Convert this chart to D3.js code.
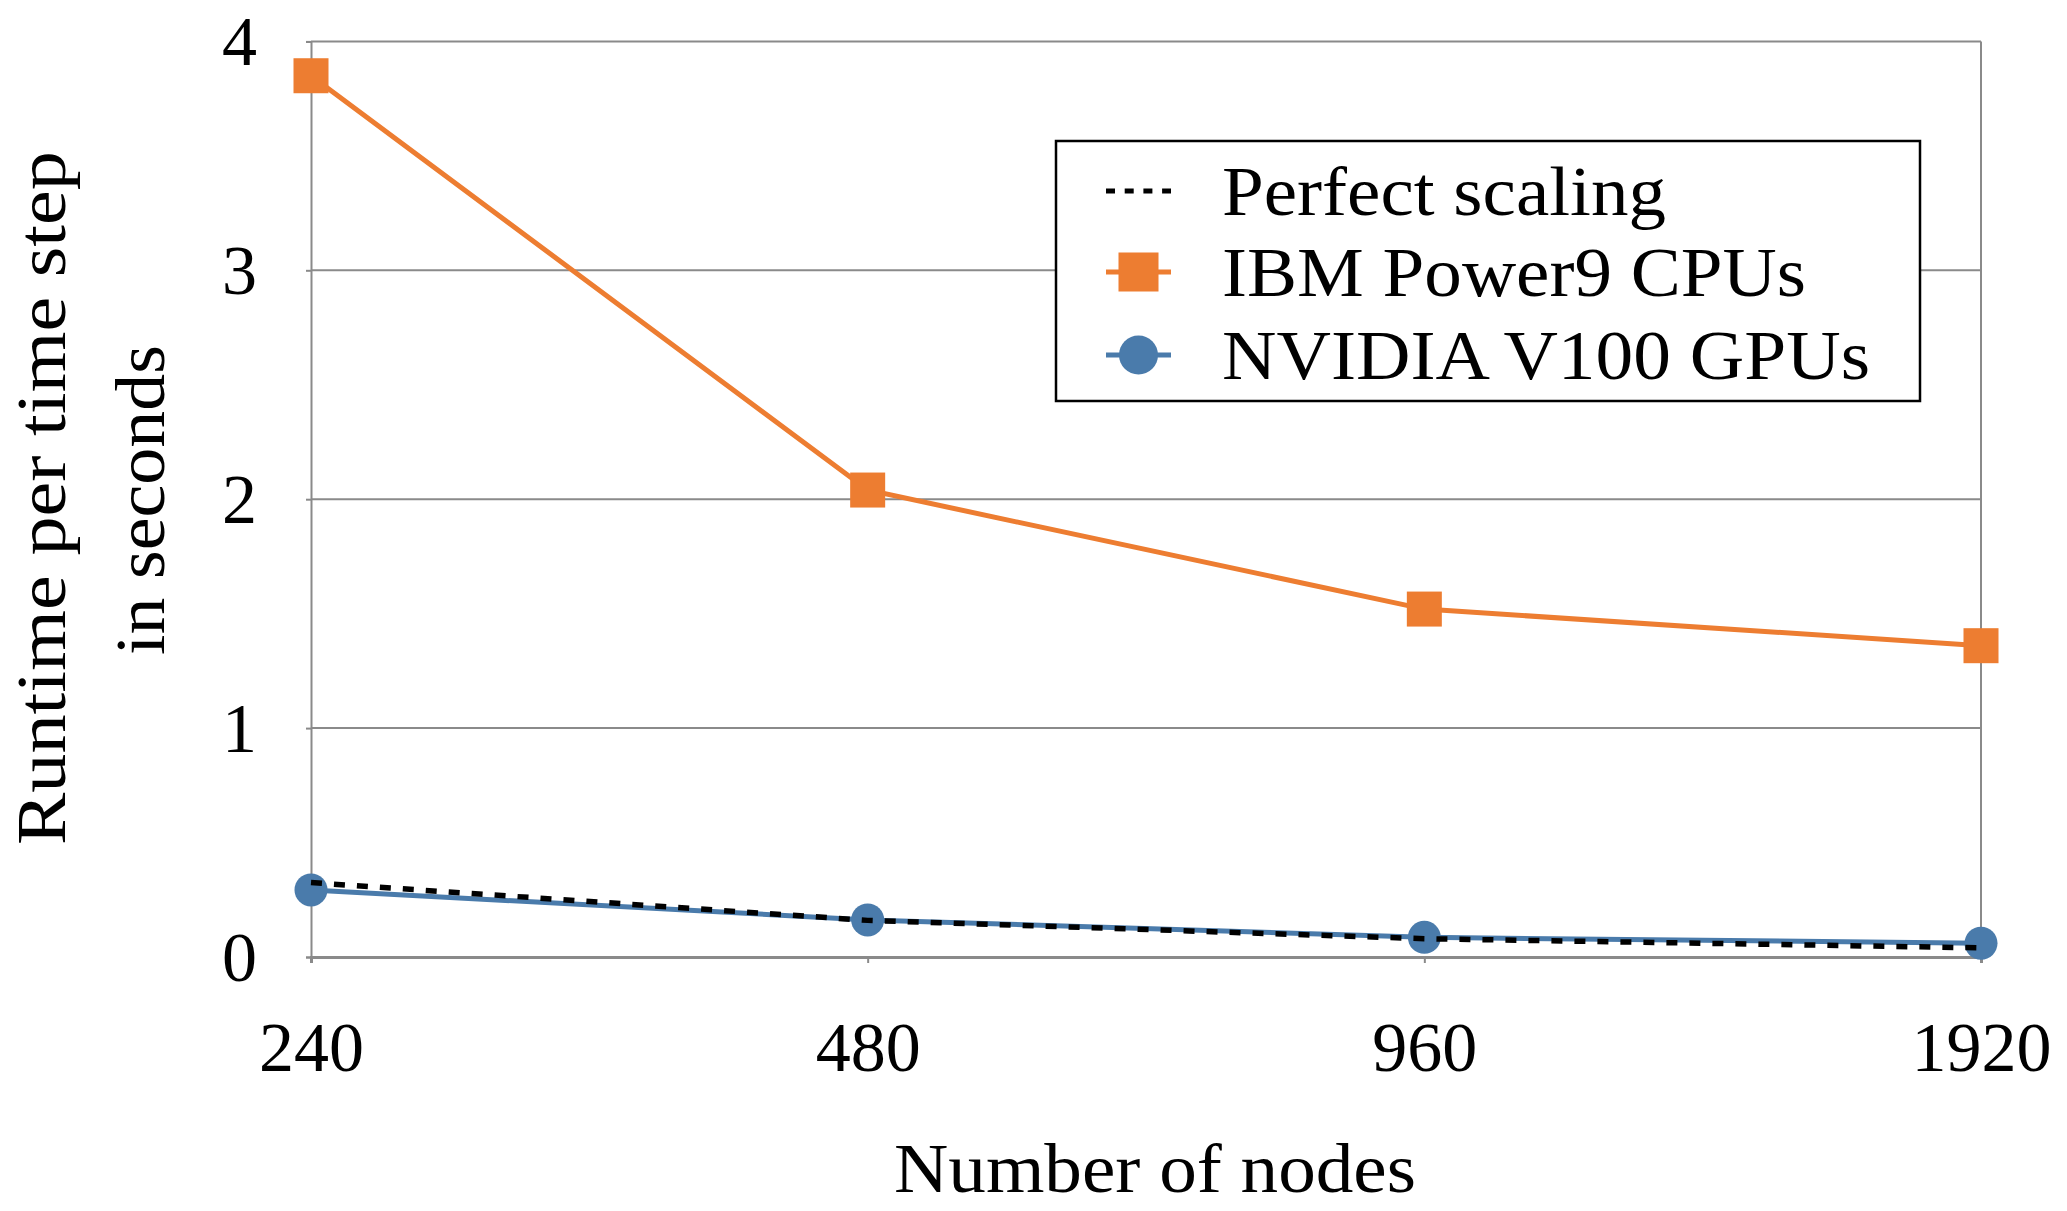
<!DOCTYPE html>
<html>
<head>
<meta charset="utf-8">
<script src="https://cdn.jsdelivr.net/npm/d3@7"></script>
<style>
  html, body { margin: 0; padding: 0; background: #fff; }
  svg { display: block; }
  text { font-family: "Liberation Serif", "Times New Roman", serif; fill: #000; }
</style>
</head>
<body>
<svg id="chart" width="2067" height="1211"></svg>
<script>
// ---- data ----
const categories = ["240", "480", "960", "1920"];
const perfectScaling = [0.325, 0.16, 0.08, 0.04];
const cpuValues = [3.85, 2.04, 1.52, 1.36];
const gpuValues = [0.293, 0.162, 0.086, 0.06];
const yTicks = [0, 1, 2, 3, 4];
const seriesNames = ["Perfect scaling", "IBM Power9 CPUs", "NVIDIA V100 GPUs"];
const xTitle = "Number of nodes";
const yTitleLines = ["Runtime per time step", "in seconds"];

// ---- layout ----
const W = 2067, H = 1211;
const plot = { left: 311, right: 1981, top: 41.4, bottom: 957 };
const ORANGE = "#ED7D31", BLUE = "#4A7BAB", GRID = "#8a8a8a";

const svg = d3.select("#chart");
svg.append("rect").attr("width", W).attr("height", H).attr("fill", "#fff");

const x = d3.scalePoint().domain(categories).range([plot.left, plot.right]).padding(0);
const y = d3.scaleLinear().domain([0, 4]).range([plot.bottom, plot.top]);

// gridlines
svg.append("g").selectAll("line").data(yTicks.filter(d => d > 0)).join("line")
  .attr("x1", plot.left).attr("x2", plot.right)
  .attr("y1", d => y(d)).attr("y2", d => y(d))
  .attr("stroke", GRID).attr("stroke-width", 2);
// right border
svg.append("line").attr("x1", plot.right).attr("x2", plot.right)
  .attr("y1", plot.top).attr("y2", plot.bottom).attr("stroke", GRID).attr("stroke-width", 2);

// y axis
const yAxis = d3.axisLeft(y).tickValues(yTicks).tickSize(5).tickPadding(49).tickFormat(d3.format("d"));
const gy = svg.append("g").attr("transform", `translate(${plot.left},0)`).call(yAxis);
gy.select(".domain").attr("stroke", GRID).attr("stroke-width", 2);
gy.selectAll(".tick line").attr("stroke", GRID).attr("stroke-width", 2);
gy.selectAll(".tick text").attr("font-size", 70).attr("font-family", "Liberation Serif").attr("fill", "#000").attr("dy", "0.33em");

// x axis
const xAxis = d3.axisBottom(x).tickSize(6).tickPadding(0);
const gx = svg.append("g").attr("transform", `translate(0,${plot.bottom})`).call(xAxis);
gx.select(".domain").attr("stroke", GRID).attr("stroke-width", 3);
gx.selectAll(".tick line").attr("stroke", GRID).attr("stroke-width", 2);
gx.selectAll(".tick text").attr("font-size", 70).attr("font-family", "Liberation Serif").attr("fill", "#000")
  .attr("y", 114).attr("dy", 0);

// lines
const line = d3.line().x((d, i) => x(categories[i])).y(d => y(d));

// GPU
svg.append("path").datum(gpuValues).attr("d", line)
  .attr("fill", "none").attr("stroke", BLUE).attr("stroke-width", 5);
svg.append("g").selectAll("circle").data(gpuValues).join("circle")
  .attr("cx", (d, i) => x(categories[i])).attr("cy", d => y(d)).attr("r", 16.5)
  .attr("fill", BLUE);

// Perfect scaling
svg.append("path").datum(perfectScaling).attr("d", line)
  .attr("fill", "none").attr("stroke", "#000").attr("stroke-width", 5.5)
  .attr("stroke-dasharray", "11 12");

// CPU
svg.append("path").datum(cpuValues).attr("d", line)
  .attr("fill", "none").attr("stroke", ORANGE).attr("stroke-width", 5);
svg.append("g").selectAll("rect").data(cpuValues).join("rect")
  .attr("x", (d, i) => x(categories[i]) - 17.5).attr("y", d => y(d) - 17.5)
  .attr("width", 35).attr("height", 35).attr("fill", ORANGE);

// legend
const lg = svg.append("g");
lg.append("rect").attr("x", 1056).attr("y", 141).attr("width", 864).attr("height", 260)
  .attr("fill", "#fff").attr("stroke", "#000").attr("stroke-width", 2.5);
const rowY = [191, 272, 355];
const textLens = [444, 584, 648];
// perfect
lg.append("line").attr("x1", 1106).attr("x2", 1171).attr("y1", rowY[0]).attr("y2", rowY[0])
  .attr("stroke", "#000").attr("stroke-width", 5).attr("stroke-dasharray", "9 9.7");
// cpu
lg.append("line").attr("x1", 1106).attr("x2", 1171).attr("y1", rowY[1]).attr("y2", rowY[1])
  .attr("stroke", ORANGE).attr("stroke-width", 5);
lg.append("rect").attr("x", 1138.5 - 20).attr("y", rowY[1] - 19.5).attr("width", 40).attr("height", 39)
  .attr("fill", ORANGE);
// gpu
lg.append("line").attr("x1", 1106).attr("x2", 1171).attr("y1", rowY[2]).attr("y2", rowY[2])
  .attr("stroke", BLUE).attr("stroke-width", 5);
lg.append("circle").attr("cx", 1138.5).attr("cy", rowY[2]).attr("r", 19.5).attr("fill", BLUE);
lg.selectAll("text").data(seriesNames).join("text")
  .attr("x", 1222).attr("y", (d, i) => rowY[i] + 23.5)
  .attr("font-size", 70)
  .attr("textLength", (d, i) => textLens[i]).attr("lengthAdjust", "spacingAndGlyphs")
  .text(d => d);

// axis titles
svg.append("text").attr("x", 1155).attr("y", 1192).attr("text-anchor", "middle")
  .attr("font-size", 70).attr("textLength", 522).attr("lengthAdjust", "spacingAndGlyphs")
  .text(xTitle);
const yt = svg.append("g").attr("transform", "translate(0,498) rotate(-90)");
yt.append("text").attr("x", 0).attr("y", 65).attr("text-anchor", "middle")
  .attr("font-size", 70).attr("textLength", 694).attr("lengthAdjust", "spacingAndGlyphs")
  .text(yTitleLines[0]);
yt.append("text").attr("x", -2).attr("y", 164).attr("text-anchor", "middle")
  .attr("font-size", 70).attr("textLength", 310).attr("lengthAdjust", "spacingAndGlyphs")
  .text(yTitleLines[1]);
</script>
</body>
</html>
